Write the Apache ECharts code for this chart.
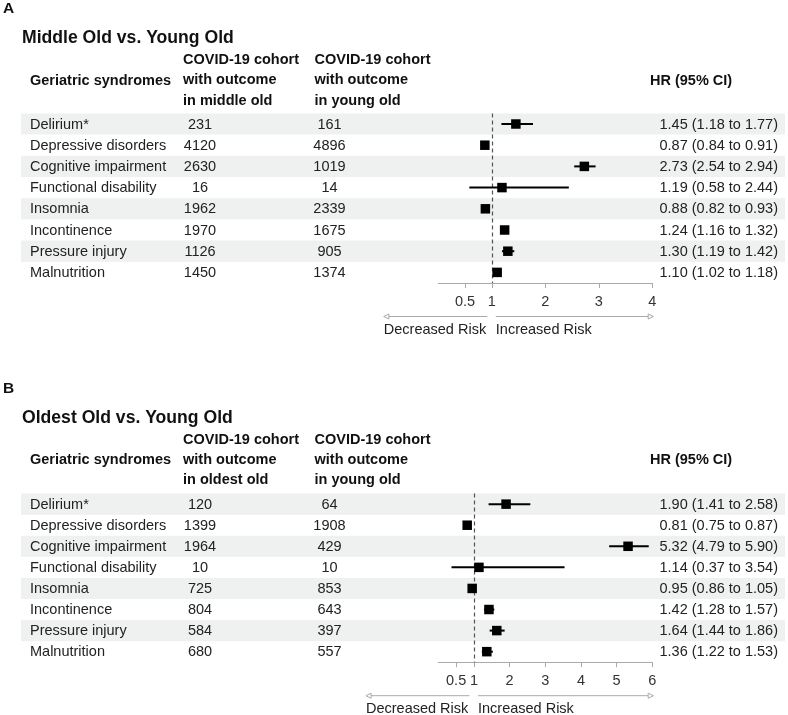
<!DOCTYPE html>
<html>
<head>
<meta charset="utf-8">
<script src="https://cdn.jsdelivr.net/npm/echarts@6/dist/echarts.min.js"></script>
<style>
html,body{margin:0;padding:0;background:#fff;}
#chart{width:788px;height:715px;}
</style>
</head>
<body>
<div id="chart"></div>
<script>
// ---------- DATA ----------
const syndromes = ['Delirium*', 'Depressive disorders', 'Cognitive impairment', 'Functional disability', 'Insomnia', 'Incontinence', 'Pressure injury', 'Malnutrition'];

const aCohortMiddle = [231, 4120, 2630, 16, 1962, 1970, 1126, 1450];
const aCohortYoung  = [161, 4896, 1019, 14, 2339, 1675, 905, 1374];
const aHR  = [1.45, 0.87, 2.73, 1.19, 0.88, 1.24, 1.30, 1.10];
const aLo  = [1.18, 0.84, 2.54, 0.58, 0.82, 1.16, 1.19, 1.02];
const aHi  = [1.77, 0.91, 2.94, 2.44, 0.93, 1.32, 1.42, 1.18];
const aTicks = [0.5, 1, 2, 3, 4];

const bCohortOldest = [120, 1399, 1964, 10, 725, 804, 584, 680];
const bCohortYoung  = [64, 1908, 429, 10, 853, 643, 397, 557];
const bHR  = [1.90, 0.81, 5.32, 1.14, 0.95, 1.42, 1.64, 1.36];
const bLo  = [1.41, 0.75, 4.79, 0.37, 0.86, 1.28, 1.44, 1.22];
const bHi  = [2.58, 0.87, 5.90, 3.54, 1.05, 1.57, 1.86, 1.53];
const bTicks = [0.5, 1, 2, 3, 4, 5, 6];

const panelLetters = ['A', 'B'];
const panelTitles = ['Middle Old vs. Young Old', 'Oldest Old vs. Young Old'];
const colHeader1 = [['COVID-19 cohort', 'with outcome', 'in middle old'], ['COVID-19 cohort', 'with outcome', 'in oldest old']];
const colHeader2 = ['COVID-19 cohort', 'with outcome', 'in young old'];
const headerSyndrome = 'Geriatric syndromes';
const headerHR = 'HR (95% CI)';
const arrowLabels = ['Decreased Risk', 'Increased Risk'];

// ---------- STYLE / LAYOUT ----------
const FONT = '"Liberation Sans", Arial, Helvetica, sans-serif';
const FS = 14.5;
const TXT = '#222';
const STRIPE = '#eef1ef';
const AXIS = '#aaaaaa';

const panels = [
  { top: 113.4, height: 169.6, max: 4, ticks: aTicks, n1: aCohortMiddle, n2: aCohortYoung, hr: aHR, lo: aLo, hi: aHi, offY: 0 },
  { top: 493.6, height: 168.6, max: 6, ticks: bTicks, n1: bCohortOldest, n2: bCohortYoung, hr: bHR, lo: bLo, hi: bHi, offY: 379.5 }
];

const COL_LABEL = 30, COL_N1 = 200, COL_N2 = 329.5, COL_HR = 778;
const STRIPE_L = 21, STRIPE_R = 785;
const FOREST_L = 438.3, FOREST_W = 214;

function fmt(v){ return v.toFixed(2); }

const grids = [], xAxes = [], yAxes = [], series = [];
panels.forEach((p, pi) => {
  const gT = grids.length;
  grids.push({ left: 0, top: p.top, width: 788, height: p.height });
  xAxes.push({ gridIndex: gT, type: 'value', min: 0, max: 788, show: false });
  yAxes.push({ gridIndex: gT, type: 'category', data: syndromes, inverse: true, show: false });
  const gF = grids.length;
  grids.push({ left: FOREST_L, top: p.top, width: FOREST_W, height: p.height });
  xAxes.push({
    gridIndex: gF, type: 'value', min: 0, max: p.max,
    axisLine: { show: true, lineStyle: { color: AXIS, width: 1 } },
    axisTick: { show: true, length: 5, customValues: p.ticks, lineStyle: { color: AXIS } },
    axisLabel: { customValues: p.ticks, fontSize: FS, fontFamily: FONT, color: '#333', margin: 11 },
    splitLine: { show: false }
  });
  yAxes.push({ gridIndex: gF, type: 'category', data: syndromes, inverse: true, show: false });

  // stripes
  series.push({
    type: 'custom', xAxisIndex: gT, yAxisIndex: gT, z: 0, silent: true,
    data: syndromes.map((s, i) => [i]),
    renderItem: function (params, api) {
      const i = api.value(0);
      if (i % 2 !== 0) return null;
      const c0 = api.coord([STRIPE_L, i]);
      const c1 = api.coord([STRIPE_R, i]);
      const h = api.size([0, 1])[1];
      return { type: 'rect', shape: { x: c0[0], y: c0[1] - h / 2, width: c1[0] - c0[0], height: h }, style: { fill: STRIPE } };
    }
  });
  // table texts
  series.push({
    type: 'custom', xAxisIndex: gT, yAxisIndex: gT, z: 2, silent: true,
    data: syndromes.map((s, i) => [i]),
    renderItem: function (params, api) {
      const i = api.value(0);
      const mk = (x, text, align) => {
        const c = api.coord([x, i]);
        return { type: 'text', x: c[0], y: c[1] + 0.5, style: { text: String(text), font: FS + 'px ' + FONT, fill: TXT, textAlign: align, textVerticalAlign: 'middle', align: align, verticalAlign: 'middle' } };
      };
      return { type: 'group', children: [
        mk(COL_LABEL, syndromes[i], 'left'),
        mk(COL_N1, p.n1[i], 'center'),
        mk(COL_N2, p.n2[i], 'center'),
        mk(COL_HR, fmt(p.hr[i]) + ' (' + fmt(p.lo[i]) + ' to ' + fmt(p.hi[i]) + ')', 'right')
      ] };
    }
  });
  // forest
  series.push({
    type: 'custom', xAxisIndex: gF, yAxisIndex: gF, z: 5, silent: true,
    data: p.hr.map((v, i) => [v, i, p.lo[i], p.hi[i]]),
    renderItem: function (params, api) {
      const i = api.value(1);
      const c = api.coord([api.value(0), i]);
      const l = api.coord([api.value(2), i]);
      const r = api.coord([api.value(3), i]);
      const s = 9.5;
      return { type: 'group', children: [
        { type: 'line', shape: { x1: l[0], y1: l[1], x2: r[0], y2: r[1] }, style: { stroke: '#000', lineWidth: 2 } },
        { type: 'rect', shape: { x: c[0] - s / 2, y: c[1] - s / 2, width: s, height: s }, style: { fill: '#000' } }
      ] };
    },
    markLine: {
      silent: true, symbol: ['none', 'none'], label: { show: false },
      lineStyle: { color: '#555', type: [4, 3], width: 1.2 },
      data: [{ xAxis: 1 }]
    }
  });
});

// header graphics
const graphics = [];
function gText(x, y, text, size, bold, align) {
  graphics.push({ type: 'text', x: x, y: y, silent: true,
    style: { text: text, font: (bold ? 'bold ' : '') + size + 'px ' + FONT, fill: bold ? '#111' : TXT,
      textAlign: align || 'left', textVerticalAlign: 'middle', align: align || 'left', verticalAlign: 'middle' } });
}
panels.forEach((p, pi) => {
  const o = p.offY;
  gText(3, 9 + o, panelLetters[pi], 15.5, true);
  gText(22, 38.5 + o, panelTitles[pi], 17.6, true);
  gText(COL_LABEL, 80.5 + o, headerSyndrome, FS, true);
  colHeader1[pi].forEach((t, k) => gText(183, 60 + k * 20.3 + o, t, FS, true));
  colHeader2.forEach((t, k) => gText(314.5, 60 + k * 20.3 + o, t, FS, true));
  gText(650, 80.5 + o, headerHR, FS, true);
});

const chart = echarts.init(document.getElementById('chart'), null, { renderer: 'canvas' });
chart.setOption({
  animation: false,
  backgroundColor: '#fff',
  grid: grids, xAxis: xAxes, yAxis: yAxes, series: series,
  graphic: graphics
});

// risk arrows placed via axis scale
const arrowG = graphics.slice();
panels.forEach((p, pi) => {
  const gF = pi * 2 + 1;
  const one = chart.convertToPixel({ gridIndex: gF }, [1, 0]);
  const end = chart.convertToPixel({ gridIndex: gF }, [p.max, 0]);
  const y = p.top + p.height + 33.5;
  const lx0 = one[0] - 108, lx1 = one[0] - 4.5;
  const rx0 = one[0] + 4, rx1 = end[0] + 1;
  const ah = 3.2;
  arrowG.push({ type: 'line', silent: true, shape: { x1: lx0, y1: y, x2: lx1, y2: y }, style: { stroke: AXIS, lineWidth: 1 } });
  arrowG.push({ type: 'line', silent: true, shape: { x1: rx0, y1: y, x2: rx1, y2: y }, style: { stroke: AXIS, lineWidth: 1 } });
  arrowG.push({ type: 'polygon', silent: true, shape: { points: [[lx0, y], [lx0 + ah * 1.6, y - ah * 0.8], [lx0 + ah * 1.6, y + ah * 0.8]] }, style: { fill: '#fff', stroke: AXIS, lineWidth: 1 } });
  arrowG.push({ type: 'polygon', silent: true, shape: { points: [[rx1, y], [rx1 - ah * 1.6, y - ah * 0.8], [rx1 - ah * 1.6, y + ah * 0.8]] }, style: { fill: '#fff', stroke: AXIS, lineWidth: 1 } });
  arrowG.push({ type: 'text', silent: true, x: lx0, y: y + 13, style: { text: arrowLabels[0], font: FS + 'px ' + FONT, fill: TXT, textAlign: 'left', textVerticalAlign: 'middle', align: 'left', verticalAlign: 'middle' } });
  arrowG.push({ type: 'text', silent: true, x: rx0, y: y + 13, style: { text: arrowLabels[1], font: FS + 'px ' + FONT, fill: TXT, textAlign: 'left', textVerticalAlign: 'middle', align: 'left', verticalAlign: 'middle' } });
});
chart.setOption({ graphic: arrowG }, { replaceMerge: ['graphic'] });
</script>
</body>
</html>
